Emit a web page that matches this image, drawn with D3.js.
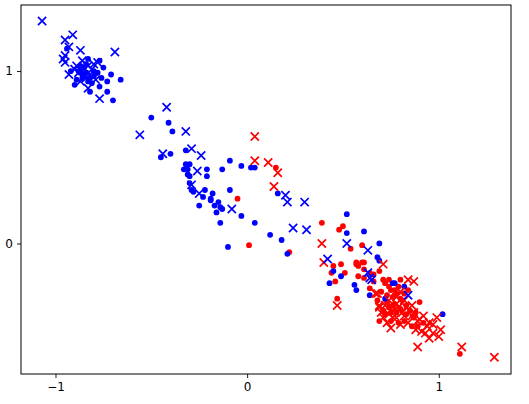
<!DOCTYPE html>
<html>
<head>
<meta charset="utf-8">
<script src="https://d3js.org/d3.v7.min.js"></script>
<style>
  body { margin: 0; background: #fff; }
  text { font-family: "DejaVu Sans", sans-serif; }
</style>
</head>
<body>
<div id="chart"></div>
<script>
// data
var blueDots = [
  [-0.77,1.06],[-0.71,0.98],[-0.66,0.95],[-0.73,0.94],[-0.77,0.91],[-0.73,0.88],[-0.70,0.83],[-0.94,1.13],
  [-0.85,1.02],[-0.82,0.96],[-0.80,0.97],[-0.83,0.94],[-0.79,0.99],[-0.86,0.96],[-0.78,0.99],[-0.75,1.02],
  [-0.82,0.88],[-0.90,0.92],[-0.87,1.03],[-0.83,1.07],[-0.88,1.00],[-0.84,0.99],[-0.81,0.93],
  [-0.84,1.04],[-0.86,0.98],[-0.80,1.00],[-0.76,0.96],[-0.89,0.95],[-0.92,1.00],
  [-0.50,0.73],[-0.41,0.70],[-0.39,0.65],[-0.45,0.50],[-0.40,0.52],[-0.32,0.54],[-0.32,0.46],[-0.30,0.46],
  [-0.33,0.43],[-0.31,0.43],[-0.31,0.40],[-0.30,0.39],[-0.21,0.43],[-0.21,0.39],[-0.13,0.43],[-0.09,0.48],
  [-0.03,0.45],[0.02,0.44],[0.04,0.44],[-0.30,0.35],[-0.29,0.31],[-0.28,0.30],[-0.22,0.31],[-0.23,0.27],
  [-0.18,0.29],[-0.19,0.26],[-0.19,0.25],[-0.25,0.22],[-0.15,0.24],[-0.17,0.22],[-0.14,0.21],[-0.13,0.20],
  [-0.16,0.18],[-0.14,0.12],[-0.09,0.31],[-0.03,0.16],[0.04,0.12],[-0.10,-0.02],[0.16,0.29],[0.12,0.05],
  [0.18,0.02],[0.21,-0.06],
  [0.52,0.17],[0.52,0.06],[0.61,0.07],[0.43,-0.23],[0.49,-0.19],[0.45,-0.16],[0.56,-0.24],[0.57,-0.27],
  [0.64,-0.30],[0.69,0.00],[0.68,-0.08],[0.69,-0.10],[0.76,-0.23],[0.77,-0.23],[0.82,-0.25],[0.72,-0.32],
  [1.02,-0.41]
];
var blueCrosses = [
  [-1.07,1.29],[-0.91,1.21],[-0.95,1.18],[-0.93,1.14],[-0.87,1.12],[-0.95,1.09],[-0.95,1.05],[-0.86,1.06],
  [-0.89,1.03],[-0.83,1.03],[-0.93,0.98],[-0.88,0.99],[-0.85,0.98],[-0.81,1.01],[-0.83,0.90],[-0.77,0.84],
  [-0.69,1.11],[-0.78,1.05],[-0.87,0.94],[-0.79,0.95],[-0.86,1.00],[-0.96,1.07],[-0.84,0.96],
  [-0.90,1.01],[-0.82,0.98],[-0.80,1.04],
  [-0.42,0.79],[-0.56,0.63],[-0.32,0.65],[-0.44,0.52],[-0.29,0.55],[-0.24,0.51],[-0.26,0.42],[-0.29,0.34],
  [-0.25,0.29],[-0.08,0.20],[0.20,0.28],[0.21,0.24],[0.30,0.24],[0.24,0.09],[0.31,0.08],[0.52,0.00],
  [0.63,-0.04],[0.42,-0.09],[0.63,-0.17],[0.64,-0.20],[0.65,-0.21],[0.84,-0.30]
];
var redDots = [
  [-0.05,0.26],[0.01,-0.01],[0.15,0.44],[0.22,-0.05],[0.39,0.12],[0.48,0.08],[0.50,0.10],[0.54,-0.03],
  [0.60,-0.01],[0.45,-0.13],[0.44,-0.17],[0.46,-0.22],[0.51,-0.17],[0.57,-0.12],[0.58,-0.13],[0.60,-0.11],
  [0.58,-0.19],[0.66,-0.18],[0.47,-0.32],[0.49,-0.12],[0.57,-0.11],[0.61,-0.15],[0.64,-0.26],[0.71,-0.21],
  [1.11,-0.64],[0.90,-0.34],[0.80,-0.21],[0.75,-0.27],[0.74,-0.21],[0.69,-0.45],[0.71,-0.39],[0.74,-0.37],
  [0.77,-0.35],[0.81,-0.33],[0.82,-0.29],[0.85,-0.39],[0.87,-0.43],[0.89,-0.48],[0.86,-0.48],[0.82,-0.45],
  [0.79,-0.46],[0.75,-0.45],[0.77,-0.27],[0.72,-0.23],[0.74,-0.25],[0.69,-0.16],[0.61,-0.20],[0.61,-0.11],
  [0.64,-0.17],[0.66,-0.22],[0.80,-0.32],[0.84,-0.27],[0.73,-0.30],[0.78,-0.40],[0.83,-0.36],[0.76,-0.31],
  [0.70,-0.28],[0.79,-0.25],[0.88,-0.40],[0.92,-0.46],[0.68,-0.33],[0.72,-0.41],
  [0.73,-0.34],[0.76,-0.36],[0.80,-0.38],[0.83,-0.41],[0.78,-0.29],[0.75,-0.40]
];
var redCrosses = [
  [0.04,0.62],[0.04,0.48],[0.11,0.47],[0.16,0.41],[0.14,0.33],[0.39,0.00],[0.40,-0.11],[0.67,-0.29],
  [0.71,-0.12],[0.47,-0.36],[0.69,-0.36],[0.84,-0.21],[0.87,-0.22],[0.68,-0.29],[0.69,-0.37],[0.75,-0.49],
  [0.80,-0.47],[0.89,-0.60],[0.99,-0.43],[1.01,-0.50],[0.97,-0.52],[0.95,-0.55],[1.12,-0.60],[1.29,-0.66],
  [0.94,-0.48],[0.91,-0.51],[0.89,-0.45],[0.86,-0.42],[0.83,-0.37],[0.81,-0.40],[0.77,-0.42],[0.74,-0.41],
  [0.71,-0.43],[0.74,-0.33],[0.78,-0.31],[0.82,-0.33],[0.79,-0.37],[0.76,-0.39],[0.87,-0.40],[0.92,-0.42],
  [0.95,-0.46],[0.93,-0.52],[1.00,-0.54],[0.73,-0.46],[0.77,-0.44],[0.84,-0.46],[0.90,-0.44],[0.97,-0.47],
  [0.80,-0.28],[0.72,-0.36],
  [0.75,-0.36],[0.82,-0.42],[0.86,-0.36],[0.78,-0.35],[0.70,-0.40],[0.88,-0.50]
];
var xTicks = [-1, 0, 1];
var yTicks = [0, 1];

var W = 529, H = 404;
var margin = { top: 5, right: 18, bottom: 30, left: 21 };
var w = W - margin.left - margin.right;
var h = H - margin.top - margin.bottom;

var svg = d3.select('#chart').append('svg')
    .attr('width', W)
    .attr('height', H)
  .append('g')
    .attr('transform', 'translate(' + margin.left + ',' + margin.top + ')');

var xScale = d3.scaleLinear().domain([-1.18, 1.377]).range([0, w]);
var yScale = d3.scaleLinear().domain([-0.757, 1.383]).range([h, 0]);

function dots(data, color) {
  svg.append('g').selectAll('circle')
      .data(data)
      .enter()
      .append('circle')
      .attr('cx', d => xScale(d[0]))
      .attr('cy', d => yScale(d[1]))
      .attr('r', 2.9)
      .attr('fill', color);
}

function crosses(data, color) {
  var s = 4.1;
  svg.append('g').selectAll('path')
      .data(data)
      .enter()
      .append('path')
      .attr('transform', d => 'translate(' + xScale(d[0]) + ',' + yScale(d[1]) + ')')
      .attr('d', 'M' + -s + ',' + -s + 'L' + s + ',' + s + 'M' + -s + ',' + s + 'L' + s + ',' + -s)
      .attr('stroke', color)
      .attr('stroke-width', 1.7)
      .attr('fill', 'none');
}

dots(redDots, '#ff0000');
dots(blueDots, '#0000ff');
crosses(redCrosses, '#ff0000');
crosses(blueCrosses, '#0000ff');

// axes
var fmt = d3.format('d');
var xAxis = d3.axisBottom(xScale).tickValues(xTicks).tickFormat(fmt).tickSize(4).tickPadding(4);
var yAxis = d3.axisLeft(yScale).tickValues(yTicks).tickFormat(fmt).tickSize(4).tickPadding(4);

var gx = svg.append('g')
    .attr('transform', 'translate(0,' + h + ')')
    .call(xAxis);
var gy = svg.append('g').call(yAxis);

[gx, gy].forEach(function (g) {
  g.select('.domain').remove();
  g.selectAll('line').attr('stroke', '#000').attr('stroke-width', 0.9);
  g.selectAll('text')
      .attr('fill', '#000')
      .style('font-size', '12px')
      .style('font-family', '"DejaVu Sans", sans-serif');
});

// frame
svg.append('rect')
    .attr('x', 0)
    .attr('y', 0)
    .attr('width', w)
    .attr('height', h)
    .attr('fill', 'none')
    .attr('stroke', '#000')
    .attr('stroke-width', 1);
</script>
</body>
</html>
